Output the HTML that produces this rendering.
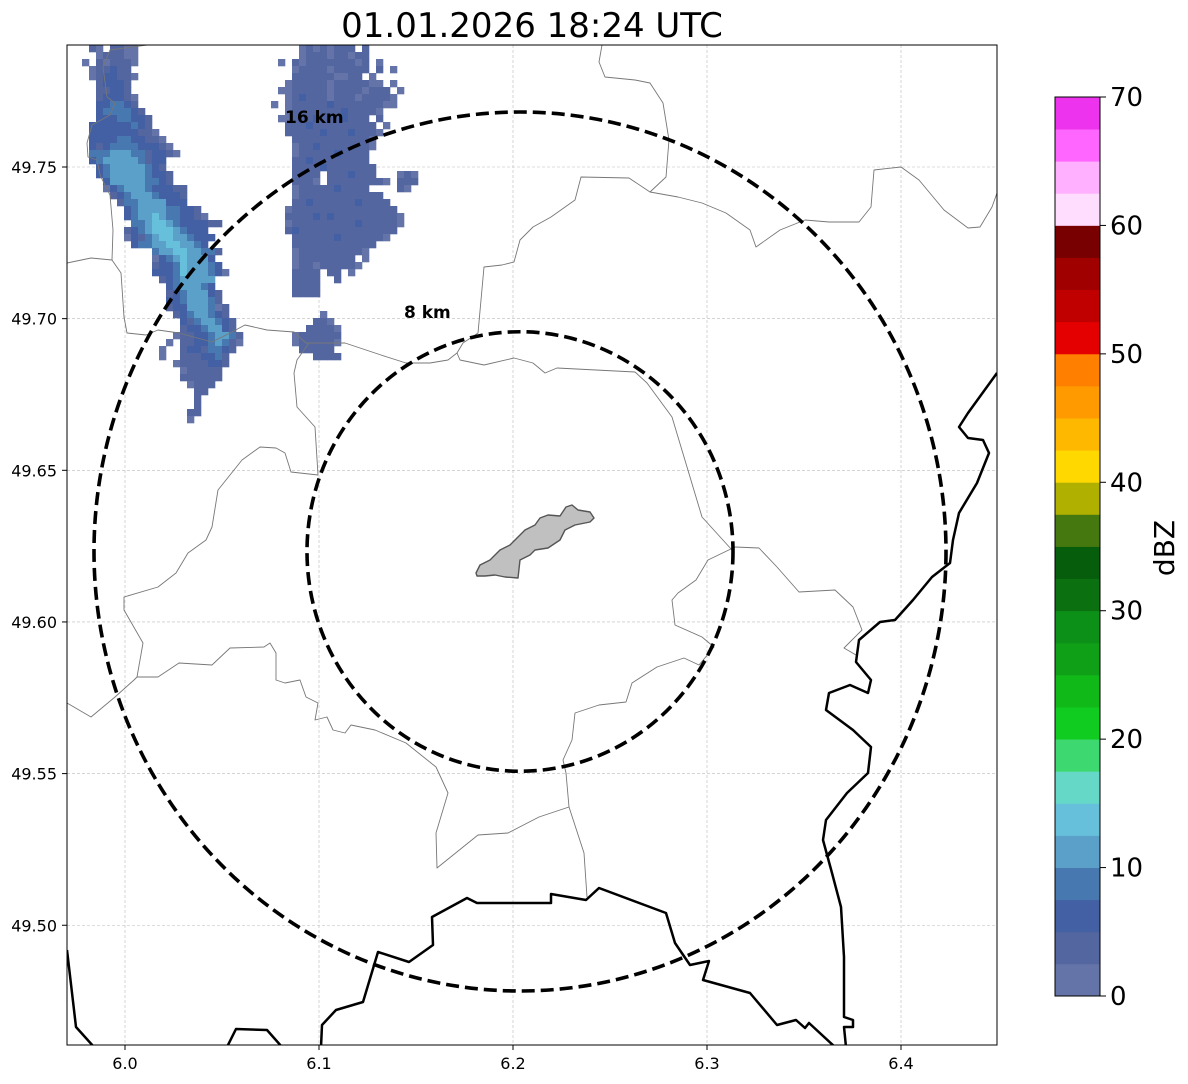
<!DOCTYPE html>
<html><head><meta charset="utf-8"><style>
html,body{margin:0;padding:0;background:#fff;}
svg{display:block;font-family:"DejaVu Sans","Liberation Sans",sans-serif;}
</style></head><body>
<svg id="chart" width="1188" height="1084" viewBox="0 0 1188 1084" xmlns="http://www.w3.org/2000/svg">
<text x="532" y="37" font-size="34" text-anchor="middle" fill="#000">01.01.2026 18:24 UTC</text>
<defs><clipPath id="mapclip"><rect x="67" y="45" width="930" height="1000"/></clipPath></defs>
<g id="grid"></g>
<g id="radar" clip-path="url(#mapclip)"></g>
<g id="borders" clip-path="url(#mapclip)" fill="none" stroke-linejoin="round"></g>
<g id="rings" clip-path="url(#mapclip)"></g>
<rect x="67" y="45" width="930" height="1000" fill="none" stroke="#000" stroke-width="1"/>
<g id="ticks"></g>
<g id="cbar"></g>
<text transform="translate(1174,548) rotate(-90)" font-size="28" text-anchor="middle" fill="#000">dBZ</text>
</svg>
<script>
const NS="http://www.w3.org/2000/svg";
const lonTicks=[6.0,6.1,6.2,6.3,6.4];
const latTicks=[49.50,49.55,49.60,49.65,49.70,49.75];
const cbTicks=[0,10,20,30,40,50,60,70];
const cbColors=["#6474a8","#5366a0","#4360a4","#4878b0","#5aa0c8","#66c0dc","#66d8c8","#3ed870","#10cc20","#10b818","#10a018","#0c9018","#0a7010","#065e0c","#467810","#b0b000","#ffd800","#ffb800","#ff9a00","#ff7f00","#e40000","#c00000","#a00000","#780000","#ffddff","#ffb0ff","#ff66ff","#ee33ee"];
// radar cell dBZ levels: '.'=none, digit d => dBZ bin d*2.5+1
const fieldA=[
".10.1100",
"..011100",
"0.101110",
".011211",
".0122110",
"..12221",
"..11221",
"..122210",
"..223321",
"..2333321",
"..22233221",
".222222321",
".2222222110",
".22223322110",
".212333322210",
".3334443312210",
".23444443122",
"..2344444321",
"..23444443221",
"...2444443321",
"...023444322211",
"....12344432221",
".....1334444222",
"......23444433221",
"......234454332210",
".......3345543222211",
"......123455543222",
"......0213455443222",
".......23344554432",
"..........3445544331",
"..........023454442",
"..........1223544432",
"..........22235444320",
"...........12344444",
"............2344432",
"............12344421",
"............22344431",
"............122444301",
".............12344321",
"..............21344321",
"..............12234421",
".............0112234431",
"............0.112234310",
"...........0..12213321",
"...........0..1112231",
".............01111221",
"..............011111",
"..............111111",
"...............0111",
"................11",
"................1",
"................1",
"...............11",
"...............0"];
const fieldB=[
"....01010111.1",
"....0111011011",
".0.10111111101.0",
"...01111011111.1.0",
"...1111110011.0",
"..01111101111100.0",
".0011111011110111.0",
"..0121110111011110",
"0.0111112111111100",
"..01111111211110",
".0011121112111.1",
"..1112111111111.0",
"..11111211121110",
"...111111111110",
"...011211111110",
"...01111121111",
"...11211111111",
"...111121111111",
"...1111.1112111...010",
"...1110.111111110.111",
"...01111121111....10",
"...0111111111111",
"...11211111121111",
"..0111111111111111",
"..11112121111111110",
"..01111111112111110",
"..1211111111111111",
"...11111121111110",
"...111111111111",
"...01111111110",
"...011111111.0",
"...0110111110",
"...1111.11.0",
"...1111..1",
"...1111",
"...1111",
"",
"",
".......0",
"......110",
".....11110",
"...0111111",
"...0111110",
"....11111",
"......1111"];
const cellW=7,cellH=7,gridX0=82,gridY0=45,colB=27;
function lonX(lon){return 125+(lon-6.0)*1940;}
function latY(lat){return 167+(49.75-lat)*3033;}
function cbY(v){return 996-(v/70)*899;}
function colorFor(dbz){let i=Math.floor(dbz/2.5);return cbColors[Math.max(0,Math.min(27,i))];}
function mk(tag,attrs,parent){const e=document.createElementNS(NS,tag);for(const k in attrs)e.setAttribute(k,attrs[k]);parent.appendChild(e);return e;}
const grid=document.getElementById('grid');
lonTicks.forEach(l=>{const e=mk('line',{x1:lonX(l),x2:lonX(l),y1:45,y2:1045,stroke:'#bbb','stroke-width':0.6,'stroke-dasharray':'3,2'},grid);

});
latTicks.forEach(l=>{const e=mk('line',{x1:67,x2:997,y1:latY(l),y2:latY(l),stroke:'#bbb','stroke-width':0.6,'stroke-dasharray':'3,2'},grid);

});
const radar=document.getElementById('radar');
function drawField(rows,c0){rows.forEach((s,r)=>{for(let c=0;c<s.length;c++){const ch=s[c];if(ch==='.')continue;const dbz=parseInt(ch)*2.5+1;
const e=mk('rect',{x:gridX0+(c0+c)*cellW,y:gridY0+r*cellH,width:cellW+0.3,height:cellH+0.3,fill:colorFor(dbz)},radar);

}});}
drawField(fieldA,0);drawField(fieldB,colB);
const borders=document.getElementById('borders');
const thin=[
"67,263 91,258 112,260 121,273 124,317 127,333 146,335 158,330 179,333 212,342 230,333 245,325 267,330 294,332 306,343 345,343 381,355 406,363 430,363 448,360 457,353 463,343 478,333 484,267 502,265 514,262 520,240 533,227 551,217 575,200 581,177 629,178 650,192 678,197 702,203 726,213 750,230 756,247 780,230 805,220 829,222 859,222 871,207 874,170 901,167 919,180 944,210 968,228 980,227 992,207 997,193",
"457,353 460,360 484,365 514,358 533,363 545,373 557,368 635,372 647,383 672,417 684,457 690,477 702,517 732,550 735,547",
"650,192 666,177 669,140 663,103 650,83 635,80 605,77 599,62 602,45",
"309,343 297,360 294,373 297,407 315,427 318,475 291,472 285,453 276,448 260,447 242,460 218,490 212,527 206,540 188,553 176,573 158,587 124,597 124,610 143,643 137,677 158,677 179,663 212,665 230,648 264,647 270,643 276,653 276,680 285,683 300,680 306,697 318,703 315,720 327,717 333,730 345,733 351,725 375,730 406,743 436,767 448,793 436,833 437,868 478,835 508,833 539,817 569,807 584,853 587,897",
"569,807 566,773 563,760 572,740 575,713 599,705 626,702 632,683 657,667 684,658 699,665 714,647 702,637 675,625 672,600 678,593 696,580 708,560 735,547 759,548 777,567 799,592 835,590 853,607 862,630 844,648 856,655",
"67,703 91,717 115,697 134,680 137,677",
"147,45 110,50 103,67 107,97 115,103 110,115 92,125 87,143 88,157 97,160 100,175 110,195 113,230 112,260"];
thin.forEach(p=>{const e=mk('polyline',{points:p,stroke:'#777','stroke-width':0.9},borders);

});
const thick=[
"321,1047 322,1025 336,1010 363,1002 378,952 409,962 433,945 432,917 467,898 477,903 551,903 551,894 586,900 599,888 666,913 675,943 690,965 709,961 703,980 750,993 777,1025 796,1020 805,1028 809,1023 835,1047",
"67,950 76,1027 94,1047",
"227,1047 236,1029 267,1030 282,1047",
"997,373 968,413 959,427 968,438 983,440 989,453 977,483 959,513 953,540 950,563 932,577 913,600 895,620 880,622 859,640 856,662 871,680 868,693 850,685 829,693 826,710 853,730 871,747 868,773 847,793 826,820 823,840 832,873 841,907 844,957 844,1017 853,1020 853,1027 844,1027 846,1047"];
thick.forEach(p=>{const e=mk('polyline',{points:p,stroke:'#000','stroke-width':2.5},borders);

});
const city=mk('polygon',{points:"476,573 480,565 490,560 500,550 510,545 515,540 525,530 535,525 540,518 548,515 560,516 566,507 572,505 578,510 590,512 594,518 590,522 575,525 565,530 560,540 548,548 535,550 530,555 520,560 518,578 505,577 495,575 485,576 477,576",fill:'#c0c0c0',stroke:'#555','stroke-width':1.4},borders);


const rings=document.getElementById('rings');
const ringKm=[8,16];
ringKm.forEach(k=>{const rx=426*k/16, ry=439.5*k/16;
const e=mk('ellipse',{cx:520,cy:551.5,rx:rx,ry:ry,fill:'none',stroke:'#000','stroke-width':3.6,'stroke-dasharray':'13,6'},rings);


const t=mk('text',{x:k===16?285:404,y:k===16?123:318,'font-size':17,'font-weight':'bold',fill:'#000'},rings);
t.textContent=k+' km';

});
const ticks=document.getElementById('ticks');
lonTicks.forEach(l=>{const x=lonX(l);mk('line',{x1:x,x2:x,y1:1045,y2:1050,stroke:'#000'},ticks);
const t=mk('text',{x:x,y:1069,'font-size':16,'text-anchor':'middle',fill:'#000'},ticks);t.textContent=l.toFixed(1);

});
latTicks.forEach(l=>{const y=latY(l);mk('line',{x1:62,x2:67,y1:y,y2:y,stroke:'#000'},ticks);
const t=mk('text',{x:57,y:y+6,'font-size':16,'text-anchor':'end',fill:'#000'},ticks);t.textContent=l.toFixed(2);

});
const cbar=document.getElementById('cbar');
cbColors.forEach((c,i)=>{const y1=cbY((i+1)*2.5),y0=cbY(i*2.5);
const e=mk('rect',{x:1055,y:y1,width:45,height:y0-y1+0.4,fill:c},cbar);

});
mk('rect',{x:1055,y:cbY(70),width:45,height:cbY(0)-cbY(70),fill:'none',stroke:'#000','stroke-width':1},cbar);
cbTicks.forEach(v=>{const y=cbY(v);mk('line',{x1:1100,x2:1106,y1:y,y2:y,stroke:'#000'},cbar);
const t=mk('text',{x:1110,y:y+9,'font-size':26,fill:'#000'},cbar);t.textContent=v;

});
</script>
</body></html>
